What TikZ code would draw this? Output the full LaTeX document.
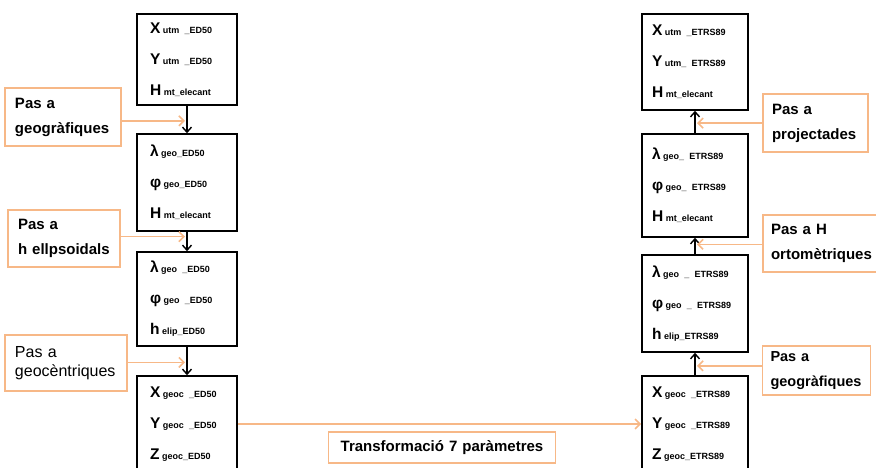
\documentclass[tikz,border=0pt]{standalone}
\usepackage{fontspec}
\setmainfont{Liberation Sans}
\usetikzlibrary{arrows.meta,calc}
\definecolor{lor}{RGB}{247,184,135}
\newcommand{\ent}[2]{{\fontsize{15.5}{31}\selectfont #1}\,{\fontsize{9}{31}\selectfont #2}}
\tikzset{
  databox/.style={draw=black, line width=1.6pt, minimum width=100pt, text width=74pt,
    inner xsep=13pt, align=left, font=\fontsize{15.5}{31}\selectfont\bfseries},
  databoxr/.style={databox, minimum width=106pt, text width=86pt, inner xsep=10pt},
  labbox/.style={draw=lor, line width=1.3pt, align=left, inner xsep=9pt,
    font=\fontsize{15}{25}\selectfont\bfseries},
  labreg/.style={labbox, font=\fontsize{16}{19}\selectfont},
  blk/.style={-{Straight Barb[length=5pt,width=9pt]}, line width=1.4pt},
  org/.style={draw=lor, line width=1.6pt, -{Straight Barb[length=5pt,width=10pt]}, shorten >=2pt},
}
\begin{document}
\begin{tikzpicture}[x=1pt,y=-1pt]
\useasboundingbox (0,0) rectangle (876,468);
% left column
\node[databox, minimum height=91pt] (L1) at (187,59.5)
  {\ent{X}{utm \_ED50}\\ \ent{Y}{utm \_ED50}\\ \ent{H}{mt\_elecant}};
\node[databox, minimum height=97pt] (L2) at (187,182.5)
  {\ent{λ}{geo\_ED50}\\ \ent{φ}{geo\_ED50}\\ \ent{H}{mt\_elecant}};
\node[databox, minimum height=94pt] (L3) at (187,299)
  {\ent{λ}{geo \_ED50}\\ \ent{φ}{geo \_ED50}\\ \ent{h}{elip\_ED50}};
\node[databox, minimum height=96pt] (L4) at (187,424)
  {\ent{X}{geoc \_ED50}\\ \ent{Y}{geoc \_ED50}\\ \ent{Z}{geoc\_ED50}};
% right column
\node[databoxr, minimum height=96pt] (R1) at (695,62)
  {\ent{X}{utm \_ETRS89}\\ \ent{Y}{utm\_ ETRS89}\\ \ent{H}{mt\_elecant}};
\node[databoxr, minimum height=103pt] (R2) at (695,185.5)
  {\ent{λ}{geo\_ ETRS89}\\ \ent{φ}{geo\_ ETRS89}\\ \ent{H}{mt\_elecant}};
\node[databoxr, minimum height=97pt] (R3) at (695,303.5)
  {\ent{λ}{geo \_ ETRS89}\\ \ent{φ}{geo \_ ETRS89}\\ \ent{h}{elip\_ETRS89}};
\node[databoxr, minimum height=96pt] (R4) at (695,424)
  {\ent{X}{geoc \_ETRS89}\\ \ent{Y}{geoc \_ETRS89}\\ \ent{Z}{geoc\_ETRS89}};
% labels
\node[labbox, minimum width=116pt, minimum height=58pt, text width=96pt, inner xsep=10pt] (LA) at (63,117) {Pas a\\geogràfiques};
\node[labbox, minimum width=112pt, minimum height=57pt, text width=92pt, inner xsep=10pt] (LB) at (64,238.5) {Pas a\\h ellpsoidals};
\node[labreg, minimum width=122pt, minimum height=56pt, text width=102pt, inner xsep=10pt] (LC) at (66,363) {Pas a\\geocèntriques};
\node[labbox, minimum width=105pt, minimum height=58pt, text width=87pt] (RA) at (815.5,123) {Pas a\\projectades};
\node[labbox, minimum width=118pt, minimum height=57pt, text width=102pt, inner xsep=8pt] (RB) at (822,243.5) {Pas a H\\ortomètriques};
\node[labbox, minimum width=108pt, minimum height=49pt, text width=92pt, inner xsep=8pt, font=\fontsize{14.5}{25}\selectfont\bfseries] (RC) at (816.5,370.5) {Pas a\\geogràfiques};
\node[labbox, minimum width=225pt, minimum height=31pt, align=center, text width=209pt] (T7) at (442,447.5) {Transformació 7 paràmetres};
% connector points
\coordinate (c1) at ($(L1.south)!0.55!(L2.north)$);
\coordinate (c2) at ($(L2.south)!0.25!(L3.north)$);
\coordinate (c3) at ($(L3.south)!0.55!(L4.north)$);
\coordinate (d1) at ($(R1.south)!0.55!(R2.north)$);
\coordinate (d2) at ($(R2.south)!0.4!(R3.north)$);
\coordinate (d3) at ($(R3.south)!0.58!(R4.north)$);
% black connectors
\draw[blk] (L1.south) -- (L2.north);
\draw[blk] (L2.south) -- (L3.north);
\draw[blk] (L3.south) -- (L4.north);
\draw[blk] (R4.north) -- (R3.south);
\draw[blk] (R3.north) -- (R2.south);
\draw[blk] (R2.north) -- (R1.south);
% orange connectors
\draw[org] (LA.east |- c1) -- (c1);
\draw[org] (LB.east |- c2) -- (c2);
\draw[org] (LC.east |- c3) -- (c3);
\draw[org] (RA.west |- d1) -- (d1);
\draw[org] (RB.west |- d2) -- (d2);
\draw[org] (RC.west |- d3) -- (d3);
\draw[org, shorten >=0pt] (L4.east) -- (R4.west);
\end{tikzpicture}
\end{document}
